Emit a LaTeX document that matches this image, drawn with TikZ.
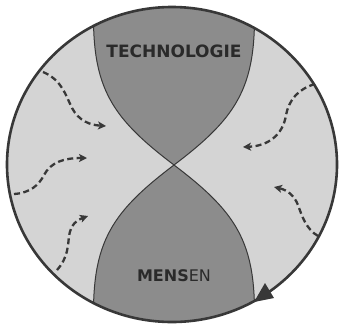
\documentclass[tikz,border=0pt]{standalone}
\usepackage{fontspec}
\setmainfont{DejaVu Sans}
\usetikzlibrary{arrows.meta}
\definecolor{paleregion}{HTML}{D4D4D4}
\definecolor{darkregion}{HTML}{8C8C8C}
\definecolor{rimline}{HTML}{383838}
\definecolor{labeltext}{HTML}{2A2A2A}
\tikzset{
  rim/.style={draw=rimline, line width=2.6pt},
  lobe/.style={fill=darkregion, draw=rimline, line width=1pt},
  flow/.style={draw=rimline, line width=2.3pt, dash pattern=on 6pt off 3.5pt,
    -{Stealth[length=8pt,width=8pt,inset=2pt]}},
  caption/.style={inner sep=0pt, text=labeltext},
}
\begin{document}
\begin{tikzpicture}[x=1pt,y=-1pt]
\useasboundingbox (0,0) rectangle (340,325);
\coordinate (mid) at (172,164.5);
\coordinate (pinch) at (174,165);
% pale disc
\fill[paleregion] (mid) ellipse [x radius=165pt, y radius=157.5pt];
% the two dark lobes, cut to the disc
\begin{scope}
  \clip (mid) ellipse [x radius=165pt, y radius=157.5pt];
  \path[lobe] (pinch) .. controls (108,115) and (90,85) .. (94,-5)
    -- (254,-5) .. controls (258,85) and (240,115) .. (pinch) -- cycle;
  \path[lobe] (pinch) .. controls (108,215) and (90,245) .. (94,335)
    -- (254,335) .. controls (258,245) and (240,215) .. (pinch) -- cycle;
\end{scope}
% outer rim
\draw[rim] (mid) ellipse [x radius=165pt, y radius=157.5pt];
\fill[rimline] (254,302) -- (265,283) -- (274,298) -- cycle;
% labels
\node[caption, font=\bfseries\fontsize{17}{17}\selectfont] (tech) at (174,51.5) {TECHNOLOGIE};
\node[caption, font=\fontsize{16}{16}\selectfont] (people) at (174,276) {{\bfseries MENS}EN};
% inward flows from the left
\coordinate (l1s) at (43,72);  \coordinate (l1e) at (106,126);
\coordinate (l2s) at (14,194); \coordinate (l2e) at (87,158);
\coordinate (l3s) at (57,270); \coordinate (l3e) at (88,216);
\draw[flow] (l1s) .. controls (62,80) and (66,96) .. (72,108)
  .. controls (79,121) and (90,125) .. (l1e);
\draw[flow] (l2s) .. controls (30,193) and (39,185) .. (44,175)
  .. controls (51,162) and (64,158) .. (l2e);
\draw[flow] (l3s) .. controls (68,258) and (68,245) .. (69,236)
  .. controls (71,224) and (77,220) .. (l3e);
% inward flows from the right
\coordinate (r1s) at (315,84);  \coordinate (r1e) at (243,147);
\coordinate (r2s) at (318,236); \coordinate (r2e) at (274,187);
\draw[flow] (r1s) .. controls (298,89) and (289,100) .. (286,115)
  .. controls (283,135) and (268,146) .. (r1e);
\draw[flow] (r2s) .. controls (306,229) and (302,216) .. (298,205)
  .. controls (294,195) and (287,190) .. (r2e);
\end{tikzpicture}
\end{document}
